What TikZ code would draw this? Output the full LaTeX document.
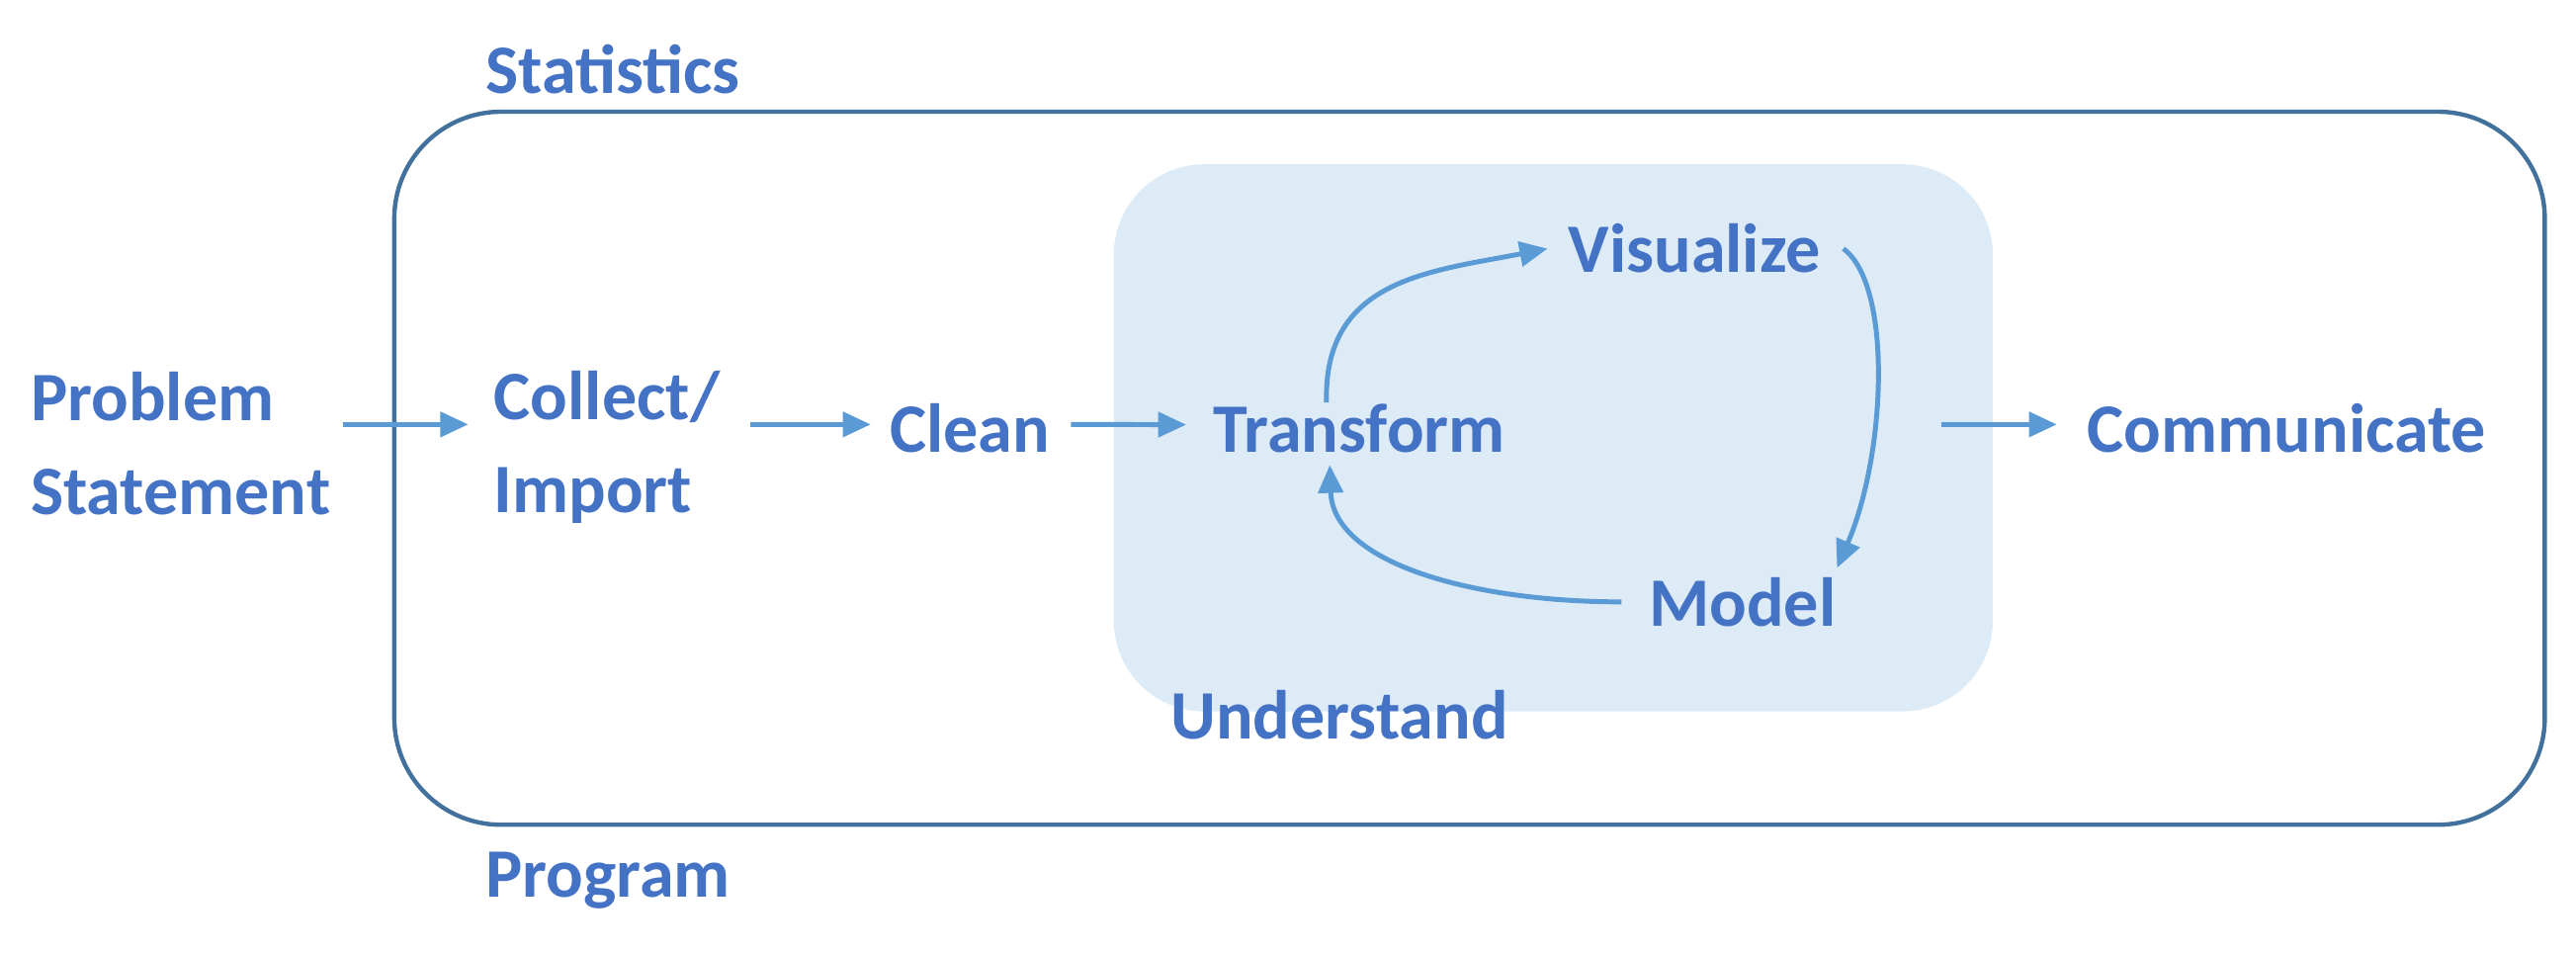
\documentclass[tikz,border=0pt]{standalone}
\usepackage{fontspec}
\setmainfont{Carlito}
\usetikzlibrary{arrows.meta}
\definecolor{txtblue}{HTML}{4472C4}
\definecolor{arrblue}{HTML}{5B9BD5}
\definecolor{boxline}{HTML}{41719C}
\definecolor{understandfill}{HTML}{DDEBF7}
\begin{document}
\begin{tikzpicture}[x=0.01cm,y=-0.01cm,
  lbl/.style={text=txtblue,font=\fontsize{12}{16.2}\selectfont\bfseries,inner sep=0pt},
  arr/.style={draw=arrblue,line width=0.85pt,-{Triangle[length=1.7mm,width=1.5mm]}},
  outerbox/.style={draw=boxline,line width=0.75pt,rounded corners=0.65cm},
  innerbox/.style={fill=understandfill,rounded corners=0.55cm},
]
\useasboundingbox (0,0) rectangle (1568,580);
\draw[outerbox] (240,68) rectangle (1549,502);
\fill[innerbox] (678,100) rectangle (1213,433);

\node[lbl, anchor=base west] (stat) at (295,57) {Statistics};
\node[lbl, anchor=base west] (prog) at (295,546) {Program};
\node[lbl, anchor=base west] (und) at (712,450) {Understand};
\node[lbl, anchor=north west, align=left] (prob) at (18,226) {Problem\\Statement};
\node[lbl, anchor=north west, align=left] (coll) at (300,225) {Collect/\\Import};
\node[lbl, anchor=base west] (clean) at (541,275) {Clean};
\node[lbl, anchor=base west] (trans) at (738,275) {Transform};
\node[lbl, anchor=base west] (vis) at (954,166) {Visualize};
\node[lbl, anchor=base west] (model) at (1003,381) {Model};
\node[lbl, anchor=base west] (comm) at (1270,275) {Communicate};

\draw[arr] ([xshift=0.07cm,yshift=0.02cm]prob.east |- clean.west) -- ([xshift=-0.15cm,yshift=0.02cm]coll.west |- clean.west);
\draw[arr] ([xshift=0.18cm,yshift=0.02cm]coll.east |- clean.west) -- ([xshift=-0.11cm,yshift=0.02cm]clean.west);
\draw[arr] ([xshift=0.12cm,yshift=0.02cm]clean.east) -- ([xshift=-0.16cm,yshift=0.02cm]trans.west);
\draw[arr] ([xshift=-0.88cm,yshift=0.02cm]comm.west) -- ([xshift=-0.18cm,yshift=0.02cm]comm.west);

\draw[arr] ([xshift=-0.2cm]trans.north) .. controls +(-2,-75) and +(-72,14) .. ([xshift=-0.12cm]vis.west);
\draw[arr] ([xshift=0.13cm]vis.east) .. controls +(30,22) and +(30,-70) .. ([yshift=0.05cm]model.north east);
\draw[arr] ([xshift=-0.16cm]model.west) .. controls +(-90,0) and +(2,60) .. ([xshift=-0.18cm,yshift=-0.07cm]trans.south);
\end{tikzpicture}
\end{document}
